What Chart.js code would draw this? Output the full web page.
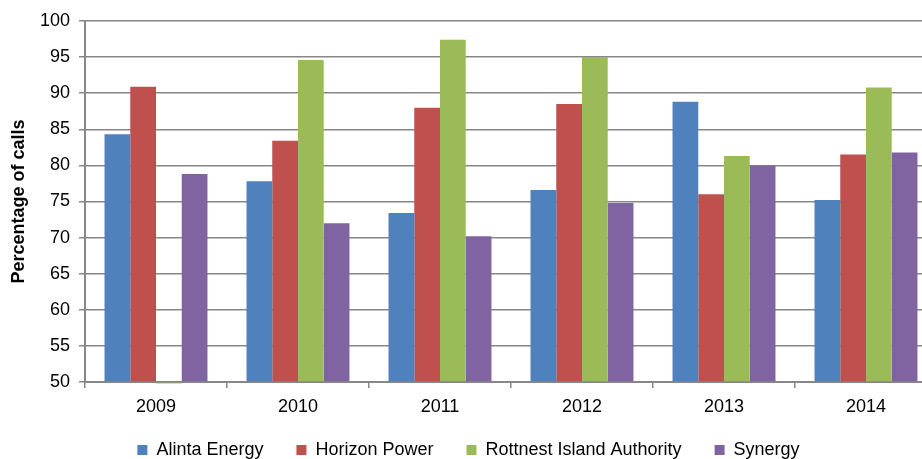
<!DOCTYPE html>
<html>
<head>
<meta charset="utf-8">
<script src="https://cdn.jsdelivr.net/npm/chart.js@4"></script>
<style>
	html, body { margin: 0; padding: 0; overflow: hidden; background: #fff; }
	canvas { display: block; }
</style>
</head>
<body>
<canvas id="chart" width="940" height="459" style="width:940px;height:459px"></canvas>
<script>
// Data.
var years = ['2009', '2010', '2011', '2012', '2013', '2014'];
var alintaEnergy = [84.3, 77.8, 73.4, 76.6, 88.8, 75.2];
var horizonPower = [90.9, 83.4, 88.0, 88.5, 76.0, 81.5];
var rottnestIsland = [49.8, 94.6, 97.4, 95.0, 81.3, 90.8];
var synergy = [78.8, 72.0, 70.2, 74.8, 80.0, 81.8];

var seriesNames = ['Alinta Energy', 'Horizon Power', 'Rottnest Island Authority', 'Synergy'];
var seriesColors = ['#4F81BD', '#C0504D', '#9BBB59', '#8064A2'];
var seriesValues = [alintaEnergy, horizonPower, rottnestIsland, synergy];

Chart.defaults.font.family = '"Liberation Sans", Arial, sans-serif';
Chart.defaults.font.size = 18;
Chart.defaults.color = '#000';

var datasets = seriesNames.map(function(name, i) {
	return {
		label: name,
		data: seriesValues[i],
		backgroundColor: seriesColors[i],
		borderWidth: 0,
		base: 50, // bars start at the axis minimum
		clip: false
	};
});

var gridGray = '#878787';

// Let the year labels overlap the legend box so they are not clipped.
var labelRoom = {
	id: 'labelRoom',
	afterLayout: function(chart) {
		chart.scales.x.bottom += 14;
	}
};

new Chart(document.getElementById('chart').getContext('2d'), {
	type: 'bar',
	data: {
		labels: years,
		datasets: datasets
	},
	options: {
		responsive: false,
		animation: false,
		datasets: {
			bar: {
				categoryPercentage: 0.725,
				barPercentage: 1
			}
		},
		layout: {
			padding: { top: 21, right: 3, bottom: 0, left: 0 }
		},
		plugins: {
			tooltip: { enabled: false },
			legend: {
				position: 'bottom',
				maxHeight: 51,
				labels: {
					boxWidth: 10,
					boxHeight: 10,
					padding: 33,
					font: { size: 18 }
				}
			}
		},
		scales: {
			x: {
				grid: {
					drawOnChartArea: false,
					drawTicks: true,
					tickLength: 6,
					color: gridGray,
					lineWidth: 1.5
				},
				border: { color: gridGray, width: 2 },
				ticks: { padding: 8, maxRotation: 0 },
				afterFit: function(scale) { scale.height = 26; }
			},
			y: {
				min: 50,
				max: 100,
				grid: {
					color: gridGray,
					lineWidth: 1.5,
					tickLength: 6
				},
				border: { color: gridGray, width: 2 },
				ticks: { stepSize: 5, padding: 9 },
				title: {
					display: true,
					text: 'Percentage of calls',
					font: { size: 18, weight: 'bold' },
					padding: { top: 8, bottom: 0 }
				},
				afterFit: function(scale) { scale.width = 85; }
			}
		}
	},
	plugins: [labelRoom]
});
</script>
</body>
</html>
